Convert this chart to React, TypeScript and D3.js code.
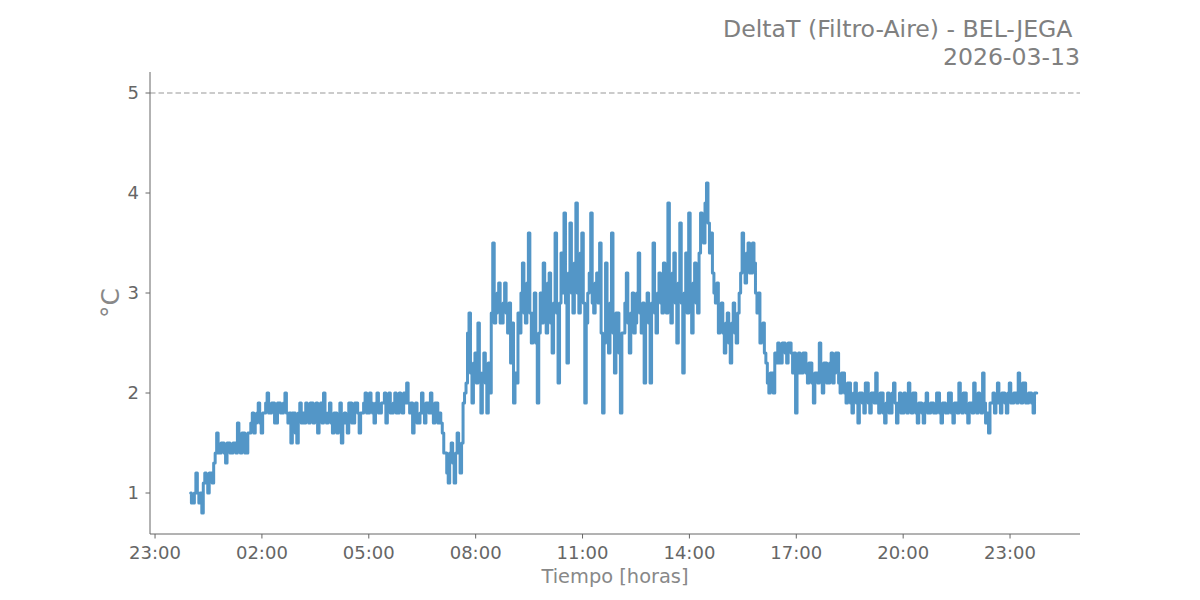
import React from "react";
import * as d3 from "d3";

// ---- data ----
const titleLines = ["DeltaT (Filtro-Aire) - BEL-JEGA", "2026-03-13"];
const xLabel = "Tiempo [horas]";
const yLabel = "°C";
const seriesStart = "2026-03-13T00:00:00";
const stepSeconds = 150; // one reading every 2.5 minutes
const thresholdValue = 5;
const yTicks = [1, 2, 3, 4, 5];
const xTickTimes = [
  "2026-03-12T23:00:00",
  "2026-03-13T02:00:00",
  "2026-03-13T05:00:00",
  "2026-03-13T08:00:00",
  "2026-03-13T11:00:00",
  "2026-03-13T14:00:00",
  "2026-03-13T17:00:00",
  "2026-03-13T20:00:00",
  "2026-03-13T23:00:00",
];
const xDomain = ["2026-03-12T22:51:30", "2026-03-14T00:57:50"];
const yDomain = [0.59, 5.21];

// DeltaT readings (°C), 00:00 -> 06:00
const deltaT00to06 = [
  1.0, 0.9, 0.9, 1.0, 1.2, 1.0, 0.9, 1.0, 0.8, 1.1, 1.2, 1.1,
  1.0, 1.2, 1.2, 1.1, 1.3, 1.4, 1.6, 1.4, 1.4, 1.5, 1.5, 1.4,
  1.3, 1.5, 1.5, 1.4, 1.4, 1.5, 1.5, 1.4, 1.7, 1.5, 1.4, 1.6,
  1.6, 1.4, 1.4, 1.6, 1.6, 1.7, 1.8, 1.6, 1.7, 1.8, 1.9, 1.7,
  1.6, 1.8, 1.8, 1.9, 2.0, 1.8, 1.8, 1.9, 1.9, 1.7, 1.7, 1.9,
  1.9, 1.8, 1.8, 1.9, 2.0, 1.8, 1.7, 1.8, 1.5, 1.8, 1.8, 1.6,
  1.5, 1.8, 1.9, 1.7, 1.8, 1.7, 1.9, 1.8, 1.7, 1.9, 1.9, 1.7,
  1.8, 1.9, 1.6, 1.8, 1.9, 1.7, 2.0, 1.8, 1.7, 1.8, 1.9, 1.7,
  1.6, 1.8, 1.8, 1.6, 1.7, 1.9, 1.5, 1.7, 1.8, 1.7, 1.6, 1.9,
  1.9, 1.7, 1.7, 1.9, 1.9, 1.8, 1.6, 1.8, 1.8, 1.9, 2.0, 1.8,
  1.8, 2.0, 1.9, 1.8, 1.7, 1.9, 2.0, 1.8, 1.8, 1.9, 1.9, 2.0,
  1.7, 1.9, 2.0, 1.8, 1.8, 1.9, 2.0, 1.8, 1.8, 2.0, 1.9, 1.8,
];
// 06:00 -> 12:00
const deltaT06to12 = [
  2.0, 1.9, 2.1, 1.9, 1.8, 1.9, 1.6, 1.8, 1.9, 1.7, 1.7, 1.8,
  2.0, 1.8, 1.7, 1.9, 1.9, 1.8, 2.0, 1.8, 1.7, 1.9, 1.9, 1.7,
  1.8, 1.7, 1.6, 1.4, 1.4, 1.2, 1.1, 1.4, 1.5, 1.3, 1.1, 1.4,
  1.6, 1.4, 1.2, 1.5, 1.9, 2.0, 2.1, 2.6, 2.8, 2.2, 1.9, 2.3,
  2.4, 2.1, 2.7, 2.2, 1.8, 2.2, 2.4, 2.1, 1.8, 2.3, 2.0, 2.8,
  3.5, 2.7, 2.8, 3.0, 3.1, 2.7, 2.7, 2.9, 3.1, 2.8, 2.6, 2.9,
  2.3, 2.7, 1.9, 2.2, 2.1, 2.8, 2.6, 3.0, 3.3, 2.8, 2.7, 3.1,
  3.6, 2.8, 2.5, 2.8, 3.0, 2.5, 1.9, 2.6, 3.0, 2.7, 3.3, 2.9,
  2.6, 3.1, 3.2, 2.7, 2.4, 2.9, 3.6, 2.8, 2.1, 2.9, 3.4, 3.0,
  3.8, 2.9, 2.3, 3.2, 3.7, 3.0, 2.8, 3.3, 3.9, 3.0, 2.8, 3.4,
  3.6, 2.9, 1.9, 2.7, 3.0, 3.2, 3.8, 2.9, 2.8, 3.1, 3.2, 2.9,
  3.5, 2.6, 1.8, 2.5, 3.3, 2.7, 2.4, 2.9, 3.6, 2.6, 2.2, 2.8,
];
// 12:00 -> 18:00
const deltaT12to18 = [
  2.8, 2.4, 1.8, 2.6, 2.6, 2.9, 3.2, 2.7, 2.4, 2.8, 3.0, 2.6,
  2.7, 3.0, 3.4, 2.8, 2.6, 2.9, 2.1, 2.8, 3.0, 2.7, 2.1, 2.9,
  3.5, 2.8, 2.6, 3.0, 3.2, 2.9, 2.8, 3.3, 3.1, 2.8, 3.9, 3.0,
  2.7, 3.2, 3.4, 2.9, 2.5, 3.1, 3.7, 2.9, 2.2, 3.0, 3.4, 2.8,
  3.8, 3.0, 2.6, 3.1, 3.3, 2.9, 2.8, 3.4, 3.8, 3.6, 3.5, 3.9,
  4.1, 3.7, 3.4, 3.6, 3.2, 3.0, 2.9, 3.1, 2.6, 2.8, 2.9, 2.6,
  2.4, 2.7, 2.8, 2.5, 2.3, 2.7, 2.9, 2.6, 2.5, 2.8, 3.0, 3.2,
  3.6, 3.3, 3.1, 3.4, 3.5, 3.2, 3.2, 3.5, 3.3, 3.0, 2.8, 3.0,
  2.5, 2.6, 2.7, 2.4, 2.3, 2.1, 2.0, 2.2, 2.2, 2.0, 2.4, 2.3,
  2.5, 2.3, 2.3, 2.5, 2.5, 2.4, 2.3, 2.5, 2.5, 2.4, 2.2, 2.4,
  1.8, 2.2, 2.4, 2.2, 2.2, 2.4, 2.4, 2.2, 2.1, 2.3, 2.3, 2.1,
  1.9, 2.2, 2.2, 2.1, 2.5, 2.2, 2.0, 2.3, 2.3, 2.1, 2.1, 2.3,
];
// 18:00 -> 23:45
const deltaT18to24 = [
  2.4, 2.1, 2.2, 2.4, 2.4, 2.1, 2.0, 2.2, 2.2, 2.0, 1.9, 2.1,
  2.1, 1.9, 1.8, 2.0, 2.1, 1.9, 1.7, 2.0, 2.0, 1.9, 1.8, 2.1,
  2.1, 1.9, 1.8, 2.0, 2.0, 1.9, 2.2, 1.9, 1.8, 2.0, 2.0, 1.8,
  1.7, 1.9, 2.0, 1.8, 1.8, 2.0, 2.1, 1.9, 1.7, 1.9, 2.0, 1.8,
  1.8, 2.0, 1.9, 1.8, 2.1, 1.9, 1.8, 2.0, 2.0, 1.8, 1.7, 1.9,
  1.9, 1.8, 1.7, 1.9, 2.0, 1.8, 1.8, 1.9, 1.9, 1.8, 1.8, 2.0,
  2.0, 1.8, 1.7, 1.9, 1.9, 1.8, 1.8, 2.0, 2.0, 1.8, 1.7, 1.9,
  1.9, 1.8, 2.1, 1.9, 1.8, 2.0, 2.0, 1.8, 1.7, 1.9, 1.9, 1.8,
  2.1, 1.9, 1.8, 2.0, 1.9, 1.8, 2.2, 1.9, 1.7, 1.8, 1.6, 1.9,
  1.9, 2.0, 1.8, 1.9, 2.1, 1.9, 1.8, 2.0, 2.0, 1.9, 1.8, 2.0,
  2.1, 1.9, 1.9, 2.0, 2.0, 1.9, 2.2, 2.0, 1.9, 2.1, 2.1, 1.9,
  1.9, 2.0, 2.0, 1.9, 1.8, 2.0, 2.0,
];

const deltaT = [...deltaT00to06, ...deltaT06to12, ...deltaT12to18, ...deltaT18to24];

const W = 1200;
const H = 600;
const margin = { left: 150, right: 120, top: 72, bottom: 66 };

export default function App() {
  const parse = (s: string) => new Date(s);
  const start = parse(seriesStart).getTime();
  const points = deltaT.map((v, i) => ({
    t: new Date(start + i * stepSeconds * 1000),
    v,
  }));

  const x = d3
    .scaleTime()
    .domain(xDomain.map(parse))
    .range([margin.left, W - margin.right]);
  const y = d3
    .scaleLinear()
    .domain(yDomain)
    .range([H - margin.bottom, margin.top]);

  const line = d3
    .line<{ t: Date; v: number }>()
    .x((d) => x(d.t))
    .y((d) => y(d.v))
    .curve(d3.curveStep);

  const fmt = d3.timeFormat("%H:%M");
  const font = "DejaVu Sans, sans-serif";
  const axisColor = "#666666";
  const textColor = "#666666";
  const x0 = margin.left;
  const x1 = W - margin.right;
  const yb = H - margin.bottom;

  return (
    <svg
      width={W}
      height={H}
      style={{ position: "absolute", left: 0, top: 0, background: "#fff" }}
      fontFamily={font}
    >
      {/* title */}
      <text x={1072.5} y={37} textAnchor="end" fontSize={23.6} fill="#808080">
        {titleLines[0]}
      </text>
      <text x={1080} y={65} textAnchor="end" fontSize={23.6} fill="#808080">
        {titleLines[1]}
      </text>

      {/* threshold line */}
      <line
        x1={x0}
        x2={x1}
        y1={y(thresholdValue)}
        y2={y(thresholdValue)}
        stroke="#bbbbbb"
        strokeWidth={1.5}
        strokeDasharray="5.5,3"
      />

      {/* data line */}
      <path
        d={line(points) || ""}
        fill="none"
        stroke="#4a90c4"
        strokeOpacity={0.95}
        strokeWidth={3}
        strokeLinejoin="round"
        strokeLinecap="round"
      />

      {/* spines */}
      <line x1={x0} x2={x0} y1={margin.top} y2={yb} stroke={axisColor} strokeWidth={1} />
      <line x1={x0} x2={x1} y1={yb} y2={yb} stroke={axisColor} strokeWidth={1} />

      {/* y ticks */}
      {yTicks.map((t) => (
        <g key={"y" + t}>
          <line x1={x0 - 4.5} x2={x0} y1={y(t)} y2={y(t)} stroke={axisColor} strokeWidth={1} />
          <text
            x={x0 - 11}
            y={y(t)}
            dy="0.36em"
            textAnchor="end"
            fontSize={18}
            fill={textColor}
          >
            {t}
          </text>
        </g>
      ))}

      {/* x ticks */}
      {xTickTimes.map((s) => {
        const d = parse(s);
        return (
          <g key={s}>
            <line x1={x(d)} x2={x(d)} y1={yb} y2={yb + 4.5} stroke={axisColor} strokeWidth={1} />
            <text x={x(d)} y={559} textAnchor="middle" fontSize={18} fill={textColor}>
              {fmt(d)}
            </text>
          </g>
        );
      })}

      {/* axis labels */}
      <text x={(x0 + x1) / 2} y={583} textAnchor="middle" fontSize={19.4} fill="#888888">
        {xLabel}
      </text>
      <text
        transform={`translate(119, ${(margin.top + yb) / 2}) rotate(-90)`}
        textAnchor="middle"
        fontSize={25}
        fill="#888888"
      >
        {yLabel}
      </text>
    </svg>
  );
}
